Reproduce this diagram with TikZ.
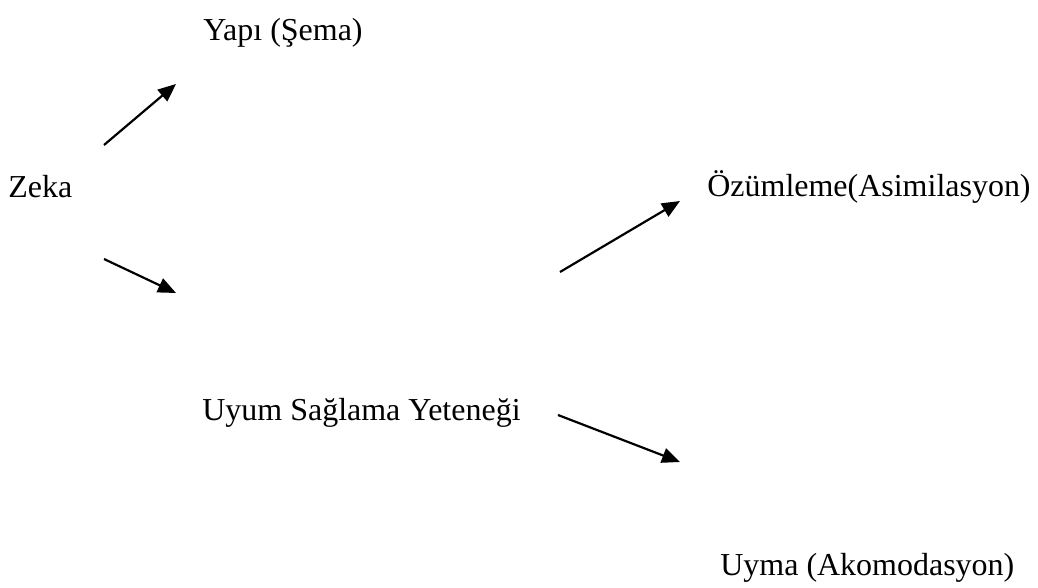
\documentclass[tikz,border=0pt]{standalone}
\usepackage{fontspec}
\setmainfont{Liberation Serif}
\usetikzlibrary{arrows.meta,positioning}

\begin{document}
\begin{tikzpicture}[x=0.02cm,y=-0.02cm,>={Triangle[length=0.36cm,width=0.3cm]},font=\fontsize{18.2}{22}\selectfont]
\tikzstyle{lbl}=[inner sep=0pt,anchor=base west]
\tikzstyle{arr}=[->,line width=1.25pt]
\useasboundingbox (0,0) rectangle (1038,588);
\node[lbl] (yapi) at (203,41) {Yapı (Şema)};
\node[lbl] (zeka) at (8,197) {Zeka};
\node[lbl] (ozum) at (707,196) {Özümleme(Asimilasyon)};
\node[lbl] (uyum) at (202,420) {Uyum Sağlama Yeteneği};
\node[lbl] (uyma) at (720,575) {Uyma (Akomodasyon)};
% free arrow ends
\coordinate (a1s) at (104,145);
\coordinate (a1e) at (176,84);
\coordinate (a2s) at (104,259);
\coordinate (a2e) at (176,293);
\coordinate (a3s) at (560,272);
\coordinate (a3e) at (680,201);
\coordinate (a4s) at (558,415);
\coordinate (a4e) at (680,462);
\draw[arr] (a1s) -- (a1e);
\draw[arr] (a2s) -- (a2e);
\draw[arr] (a3s) -- (a3e);
\draw[arr] (a4s) -- (a4e);
\end{tikzpicture}
\end{document}
